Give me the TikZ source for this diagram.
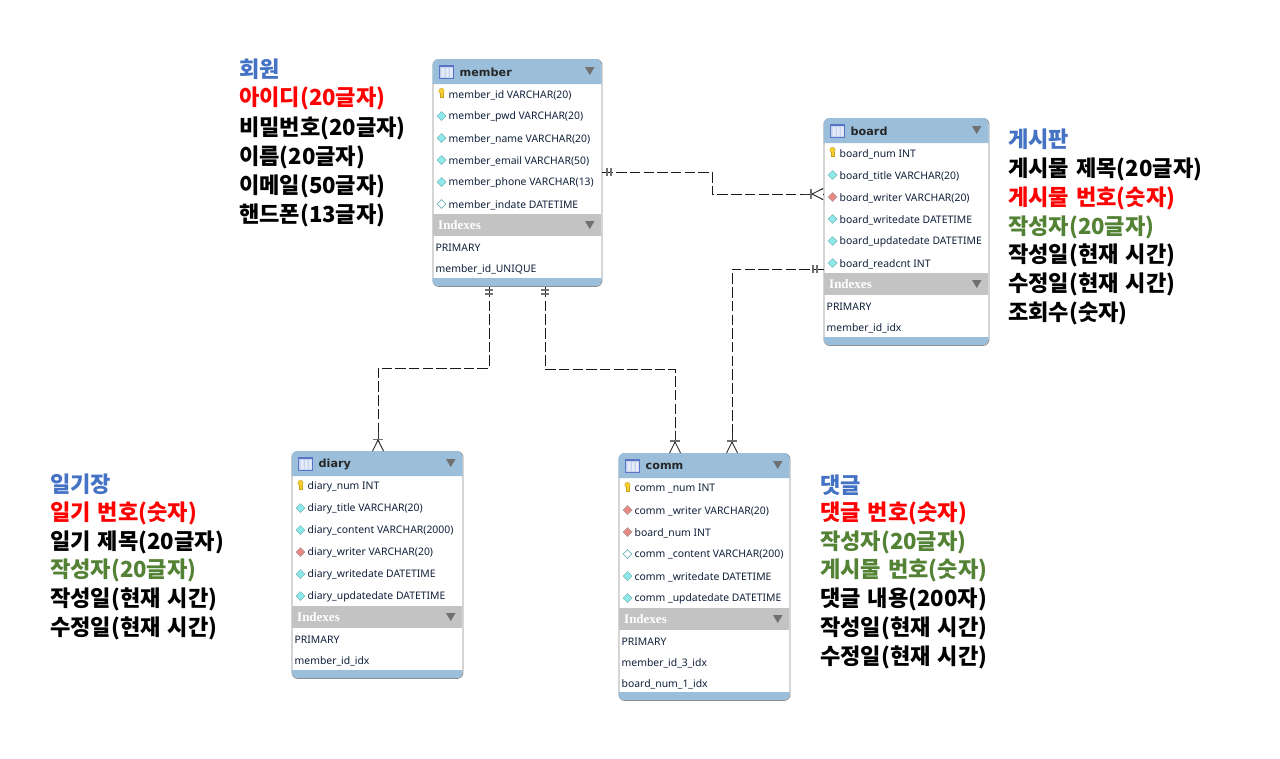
\documentclass[tikz,border=0pt]{standalone}
\usepackage{fontspec}
\setmainfont{Noto Sans}
\newfontfamily\krfont[WordSpace=1.4]{Noto Sans CJK KR}
\newfontfamily\idxfont{Liberation Serif}
\newfontfamily\titlefont{DejaVu Sans}
\definecolor{hdrblue}{HTML}{9BBFDA}
\definecolor{idxgray}{HTML}{C3C3C3}
\definecolor{edgegray}{HTML}{8A8A8A}
\definecolor{tickgray}{HTML}{707070}
\definecolor{krblue}{HTML}{4472C4}
\definecolor{krgreen}{HTML}{548235}
\definecolor{rowtext}{HTML}{10203A}
\definecolor{iconbody}{HTML}{C4D2F0}
\definecolor{iconstripe}{HTML}{E6ECFA}
\definecolor{iconedge}{HTML}{5A74C8}
\definecolor{keygold}{HTML}{F5D02E}
\definecolor{keyedge}{HTML}{C8A020}
\definecolor{diafill}{HTML}{8FE8EA}
\definecolor{diaedge}{HTML}{6FB5B8}
\definecolor{redfill}{HTML}{E88A84}
\definecolor{rededge}{HTML}{A89090}
\tikzset{
  erdbox/.style={draw=edgegray,line width=0.9pt,rounded corners=6pt,fill=white,inner sep=0pt,anchor=north west},
  rowlabel/.style={anchor=west,inner sep=0pt,yshift=-1pt,text=rowtext,font=\fontsize{10.4}{12}\selectfont},
  titlelabel/.style={anchor=west,inner sep=0pt,yshift=-0.6pt,text=black!85,font=\titlefont\bfseries\fontsize{11.2}{13}\selectfont},
  idxlabel/.style={anchor=west,inner sep=0pt,text=white,font=\idxfont\bfseries\fontsize{13}{14}\selectfont},
  notelabel/.style={anchor=west,inner sep=0pt,yshift=-1.5pt,font=\krfont\bfseries\fontsize{22.1}{25}\selectfont},
  relline/.style={draw=black!90,line width=0.9pt,dash pattern=on 10.5pt off 3.2pt},
  reltick/.style={draw=tickgray,line width=1.4pt},
  relfoot/.style={draw=black!80,line width=0.9pt},
}
% #1 x, #2 y, #3 kind k/f/o/r
\newcommand{\rowicon}[3]{%
  \if#3k
    \fill[keygold,draw=keyedge,line width=0.4pt] (#1,#2-3) circle[radius=2.7];
    \fill[keygold,draw=keyedge,line width=0.4pt] (#1-1.2,#2-1) rectangle (#1+1.2,#2+3.5);
    \fill[keygold] (#1-1,#2-3) rectangle (#1+1,#2+2);
  \else\if#3f
    \path[fill=diafill,draw=diaedge,line width=0.5pt] (#1-4.4,#2) -- (#1,#2-4.4) -- (#1+4.4,#2) -- (#1,#2+4.4) -- cycle;
  \else\if#3r
    \path[fill=redfill,draw=rededge,line width=0.5pt] (#1-4.4,#2) -- (#1,#2-4.4) -- (#1+4.4,#2) -- (#1,#2+4.4) -- cycle;
  \else
    \path[fill=white,draw=diaedge,line width=0.7pt] (#1-4.4,#2) -- (#1,#2-4.4) -- (#1+4.4,#2) -- (#1,#2+4.4) -- cycle;
  \fi\fi\fi}
% #1 name, #2 x1, #3 y1, #4 width, #5 height, #6 title, #7 rows kind/text, #8 index rows
\newcommand{\erdtable}[8]{%
  \pgfmathsetmacro{\xb}{#2+#4}\pgfmathsetmacro{\yb}{#3+#5}
  \pgfmathsetmacro{\yh}{#3+25}\pgfmathsetmacro{\yf}{\yb-8}
  \node[erdbox,minimum width=#4pt,minimum height=#5pt] (#1) at (#2,#3) {};
  \fill[hdrblue] (#2,\yh) [rounded corners=6pt] -- (#2,#3) -- (\xb,#3) [sharp corners] -- (\xb,\yh) -- cycle;
  \fill[hdrblue] (#2,\yf) -- (\xb,\yf) [rounded corners=6pt] -- (\xb,\yb) -- (#2,\yb) [sharp corners] -- cycle;
  \pgfmathsetmacro{\yc}{#3+13}
  \fill[iconbody] (#2+6.5,\yc-6.5) rectangle (#2+21,\yc+6.5);
  \fill[iconstripe] (#2+9,\yc-4) rectangle (#2+12,\yc+5) (#2+13.5,\yc-4) rectangle (#2+16,\yc+5) (#2+17.5,\yc-4) rectangle (#2+20,\yc+5);
  \fill[iconedge] (#2+6.5,\yc-6.5) rectangle (#2+21,\yc-5);
  \draw[iconedge,line width=0.6pt] (#2+6.5,\yc-6.5) rectangle (#2+21,\yc+6.5);
  \node[titlelabel] (#1-title) at (#2+27,\yc) {#6};
  \fill[tickgray] (\xb-16.5,#3+8) -- (\xb-7,#3+8) -- (\xb-11.75,#3+16) -- cycle;
  \foreach \rk/\rt [count=\i from 0] in {#7} {
    \pgfmathsetmacro{\ry}{#3+35+22*\i}
    \rowicon{#2+9}{\ry}{\rk}
    \node[rowlabel] (#1-row\i) at (#2+16,\ry) {\rt};
  }
  \pgfmathsetmacro{\ia}{#3+155}\pgfmathsetmacro{\ib}{#3+177}
  \fill[idxgray] (#2+0.4,\ia) rectangle (\xb-0.4,\ib);
  \node[idxlabel] (#1-idx) at (#2+5.5,#3+166) {Indexes};
  \fill[tickgray] (\xb-16.5,#3+162) -- (\xb-7,#3+162) -- (\xb-11.75,#3+170) -- cycle;
  \foreach \rt [count=\i from 0] in {#8} {
    \pgfmathsetmacro{\ry}{#3+188+21*\i}
    \node[rowlabel] (#1-ix\i) at (#2+3,\ry) {\rt};
  }
}
\begin{document}
\begin{tikzpicture}[x=1pt,y=-1pt]
\useasboundingbox (0,0) rectangle (1280,758);
\fill[white] (0,0) rectangle (1280,758);

\erdtable{member}{432.5}{59}{169}{227}{member}{k/{member\_id VARCHAR(20)},f/{member\_pwd VARCHAR(20)},f/{member\_name VARCHAR(20)},f/{member\_email VARCHAR(50)},f/{member\_phone VARCHAR(13)},o/{member\_indate DATETIME}}{PRIMARY,member\_id\_UNIQUE}
\erdtable{board}{823.5}{118}{165}{227}{board}{k/{board\_num INT},f/{board\_title VARCHAR(20)},r/{board\_writer VARCHAR(20)},f/{board\_writedate DATETIME},f/{board\_updatedate DATETIME},f/{board\_readcnt INT}}{PRIMARY,member\_id\_idx}
\erdtable{diary}{291.5}{451}{171}{227}{diary}{k/{diary\_num INT},f/{diary\_title VARCHAR(20)},f/{diary\_content VARCHAR(2000)},r/{diary\_writer VARCHAR(20)},f/{diary\_writedate DATETIME},f/{diary\_updatedate DATETIME}}{PRIMARY,member\_id\_idx}
\erdtable{comm}{618.5}{453}{171}{247}{comm}{k/{comm \_num INT},r/{comm \_writer VARCHAR(20)},r/{board\_num INT},o/{comm \_content VARCHAR(200)},f/{comm \_writedate DATETIME},f/{comm \_updatedate DATETIME}}{PRIMARY,member\_id\_3\_idx,board\_num\_1\_idx}

% connectors
\coordinate (mr) at (member.east |- 0,172);
\coordinate (bl) at (board.west |- 0,194);
\coordinate (br) at (board.west |- 0,269);
\coordinate (ma) at (489,0 |- member.south);
\coordinate (mb) at (545,0 |- member.south);
\coordinate (dt) at (378,0 |- diary.north);
\coordinate (ca) at (675,0 |- comm.north);
\coordinate (cb) at (732,0 |- comm.north);
\draw[relline] (mr) -- (712,172) -- (712,194) -- (bl);
\draw[relline] (br) -- (732,269) -- (cb);
\draw[relline] (ma) -- (489,368) -- (378,368) -- (dt);
\draw[relline] (mb) -- (545,369) -- (675,369) -- (ca);

% ticks and crow's feet
\draw[reltick] (607,168) -- (607,176) (611,168) -- (611,176);
\draw[relfoot] (803,194) -- (812,194);
\draw[reltick] (811,189) -- (811,199);
\draw[relfoot] (812,194) -- (823,188.5) (812,194) -- (823,199.5);
\draw[reltick] (813,265) -- (813,273) (817,265) -- (817,273);
\draw[reltick] (485,290) -- (493,290) (485,294) -- (493,294);
\draw[reltick] (541,290) -- (549,290) (541,294) -- (549,294);
\draw[relfoot] (378,431) -- (378,440);
\draw[reltick] (373,439.5) -- (383,439.5);
\draw[relfoot] (378,440) -- (372.5,451) (378,440) -- (383.5,451);
\draw[relfoot] (675,433) -- (675,442);
\draw[reltick] (670,441) -- (680,441);
\draw[relfoot] (675,442) -- (669.5,453) (675,442) -- (680.5,453);
\draw[relfoot] (732,433) -- (732,442);
\draw[reltick] (727,441) -- (737,441);
\draw[relfoot] (732,442) -- (726.5,453) (732,442) -- (737.5,453);
\fill[white] (370,441.5) -- (386,441.5) -- (386,450.5) -- (370,450.5) -- cycle;
\draw[relfoot] (378,440) -- (372.5,451) (378,440) -- (383.5,451);
\fill[white] (667,443) -- (683,443) -- (683,452.5) -- (667,452.5) -- cycle;
\draw[relfoot] (675,442) -- (669.5,453) (675,442) -- (680.5,453);
\fill[white] (724,443) -- (740,443) -- (740,452.5) -- (724,452.5) -- cycle;
\draw[relfoot] (732,442) -- (726.5,453) (732,442) -- (737.5,453);
\fill[white] (813,189.5) -- (822.5,189.5) -- (822.5,198.5) -- (813,198.5) -- cycle;
\draw[relfoot] (812,194) -- (823,188.5) (812,194) -- (823,199.5);

% notes
\node[notelabel,text=krblue] (n1a) at (239,68) {회원};
\node[notelabel,text=red] (n1b) at (239,97) {아이디(20글자)};
\node[notelabel] (n1c) at (239,127) {비밀번호(20글자)};
\node[notelabel] (n1d) at (239,156) {이름(20글자)};
\node[notelabel] (n1e) at (239,185) {이메일(50글자)};
\node[notelabel] (n1f) at (239,214) {핸드폰(13글자)};

\node[notelabel,text=krblue] (n2a) at (1008,138) {게시판};
\node[notelabel] (n2b) at (1008,168) {게시물 제목(20글자)};
\node[notelabel,text=red] (n2c) at (1008,197) {게시물 번호(숫자)};
\node[notelabel,text=krgreen] (n2d) at (1008,226) {작성자(20글자)};
\node[notelabel] (n2e) at (1008,254) {작성일(현재 시간)};
\node[notelabel] (n2f) at (1008,283) {수정일(현재 시간)};
\node[notelabel] (n2g) at (1008,312) {조회수(숫자)};

\node[notelabel,text=krblue] (n3a) at (50,483) {일기장};
\node[notelabel,text=red] (n3b) at (50,512) {일기 번호(숫자)};
\node[notelabel] (n3c) at (50,541) {일기 제목(20글자)};
\node[notelabel,text=krgreen] (n3d) at (50,569) {작성자(20글자)};
\node[notelabel] (n3e) at (50,598) {작성일(현재 시간)};
\node[notelabel] (n3f) at (50,627) {수정일(현재 시간)};

\node[notelabel,text=krblue] (n4a) at (820,484) {댓글};
\node[notelabel,text=red] (n4b) at (820,512) {댓글 번호(숫자)};
\node[notelabel,text=krgreen] (n4c) at (820,541) {작성자(20글자)};
\node[notelabel,text=krgreen] (n4d) at (820,569) {게시물 번호(숫자)};
\node[notelabel] (n4e) at (820,598) {댓글 내용(200자)};
\node[notelabel] (n4f) at (820,627) {작성일(현재 시간)};
\node[notelabel] (n4g) at (820,656) {수정일(현재 시간)};
\end{tikzpicture}
\end{document}
